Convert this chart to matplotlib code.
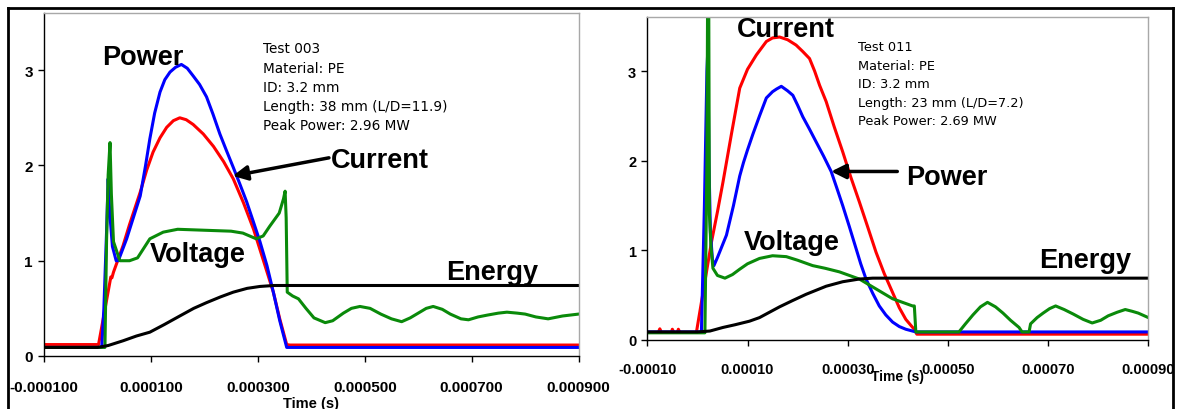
import numpy as np
import matplotlib
matplotlib.use("Agg")
import matplotlib.pyplot as plt
from matplotlib.lines import Line2D

# ---------------- data (time in microseconds) ----------------
# Left panel: Test 003
L_cur_t = [-100, 2, 14, 25, 27, 30, 48, 60, 80, 92, 104, 117, 129.5, 142, 154, 166, 179, 198, 217, 236, 254, 273, 292, 310, 329, 341, 354, 360, 900]
L_cur_v = [0.12, 0.12, 0.49, 0.83, 0.82, 0.88, 1.16, 1.38, 1.72, 1.95, 2.14, 2.29, 2.40, 2.47, 2.50, 2.48, 2.43, 2.33, 2.20, 2.04, 1.86, 1.61, 1.33, 1.01, 0.67, 0.39, 0.12, 0.115, 0.115]

L_pow_t = [-100, 8, 12, 17, 20, 23, 28, 35, 39, 54.6, 67, 80, 90, 98, 107, 117, 126, 135.7, 146, 157, 168, 179, 191, 204, 216, 229, 241, 254, 266, 279, 291, 304, 317, 329, 341, 354, 900]
L_pow_v = [0.09, 0.09, 0.5, 1.3, 1.86, 1.5, 1.15, 1.0, 1.0, 1.23, 1.45, 1.68, 2.0, 2.28, 2.55, 2.77, 2.90, 2.98, 3.03, 3.06, 3.02, 2.94, 2.85, 2.72, 2.54, 2.33, 2.16, 1.98, 1.81, 1.62, 1.42, 1.20, 0.95, 0.67, 0.37, 0.09, 0.09]

L_vol_t = [-100, 14, 17, 20, 23.5, 26, 30, 42, 60, 75, 98, 123, 150, 200, 250, 272, 297, 310, 322, 340, 348, 351, 353, 355, 365, 376, 390, 405, 426, 440, 460, 475, 491, 510, 530, 550, 569, 585, 600, 615, 628, 645, 660, 680, 694, 712, 730, 750, 766, 785, 800, 820, 843, 870, 900]
L_vol_v = [0.09, 0.09, 1.2, 1.9, 2.24, 1.7, 1.2, 1.0, 1.0, 1.03, 1.23, 1.30, 1.33, 1.32, 1.31, 1.29, 1.23, 1.26, 1.36, 1.50, 1.65, 1.73, 1.45, 0.67, 0.63, 0.60, 0.50, 0.40, 0.35, 0.37, 0.45, 0.50, 0.52, 0.50, 0.44, 0.39, 0.36, 0.40, 0.45, 0.50, 0.52, 0.49, 0.44, 0.39, 0.38, 0.41, 0.43, 0.45, 0.46, 0.45, 0.44, 0.41, 0.39, 0.42, 0.44]

L_ene_t = [-100, 0, 20, 48, 73, 98, 125, 154, 180, 204, 230, 254, 280, 304, 330, 900]
L_ene_v = [0.09, 0.09, 0.11, 0.16, 0.21, 0.25, 0.33, 0.42, 0.50, 0.56, 0.62, 0.67, 0.71, 0.73, 0.74, 0.74]

# Right panel: Test 011
R_cur_t = [-100, -78, -75, -72, -52, -50, -47, -40, -38, -35, -2, 28, 40, 51, 68, 84.5, 100, 117.7, 137.6, 150, 164, 180, 197, 210, 223.8, 234, 244, 257, 273, 290, 306, 323.3, 340, 356.5, 373, 389.6, 403, 416, 432.7, 438, 900]
R_cur_v = [0.085, 0.085, 0.125, 0.085, 0.085, 0.12, 0.085, 0.085, 0.12, 0.085, 0.085, 1.09, 1.43, 1.76, 2.30, 2.81, 3.02, 3.18, 3.33, 3.37, 3.38, 3.35, 3.29, 3.22, 3.14, 3.00, 2.84, 2.66, 2.38, 2.10, 1.82, 1.54, 1.26, 0.98, 0.74, 0.53, 0.36, 0.23, 0.12, 0.065, 0.065]

R_pow_t = [-100, 8, 14, 19, 21, 23, 26, 30, 33, 40, 58, 72, 84.5, 92, 100, 111, 124, 137.6, 150, 158, 167.5, 180, 190.5, 200, 210.4, 223, 237, 252, 267, 278, 290, 303, 316.7, 326, 336.6, 350, 363, 376, 389.6, 403, 416, 436, 900]
R_pow_v = [0.09, 0.09, 1.5, 3.0, 3.27, 2.0, 1.2, 0.9, 0.83, 0.92, 1.17, 1.50, 1.83, 1.98, 2.12, 2.30, 2.50, 2.70, 2.77, 2.80, 2.83, 2.78, 2.73, 2.62, 2.49, 2.36, 2.21, 2.05, 1.88, 1.70, 1.50, 1.27, 1.02, 0.85, 0.68, 0.52, 0.38, 0.28, 0.20, 0.15, 0.12, 0.09, 0.09]

R_vol_t = [-100, 15, 19, 20.5, 22.5, 24, 27, 31, 40, 55, 70, 84.5, 100, 124, 150, 177.4, 200, 230, 255, 283.5, 323.3, 356.5, 389.6, 429.4, 433, 436, 522, 535, 550, 565, 579, 595, 610, 625, 642, 648, 662, 665, 678, 690, 703, 715, 732, 750, 770, 788, 805, 820, 838, 854, 868, 880, 900]
R_vol_v = [0.08, 0.08, 2.0, 4.0, 4.0, 1.4, 1.05, 0.8, 0.72, 0.69, 0.73, 0.79, 0.85, 0.91, 0.94, 0.93, 0.89, 0.83, 0.80, 0.76, 0.68, 0.57, 0.46, 0.38, 0.38, 0.09, 0.09, 0.18, 0.28, 0.37, 0.42, 0.37, 0.30, 0.22, 0.14, 0.09, 0.09, 0.18, 0.25, 0.30, 0.35, 0.38, 0.34, 0.29, 0.23, 0.19, 0.22, 0.27, 0.31, 0.34, 0.32, 0.30, 0.25]

R_ene_t = [-100, 0, 25, 51, 75, 104, 124, 164, 190, 217, 257, 290, 323, 350, 900]
R_ene_v = [0.09, 0.09, 0.10, 0.14, 0.17, 0.21, 0.25, 0.37, 0.44, 0.51, 0.60, 0.65, 0.68, 0.69, 0.69]

L_ticks = [-0.0001, 0.0001, 0.0003, 0.0005, 0.0007, 0.0009]
L_ticklabels = ["-0.000100", "0.000100", "0.000300", "0.000500", "0.000700", "0.000900"]
R_ticklabels = ["-0.00010", "0.00010", "0.00030", "0.00050", "0.00070", "0.00090"]
Y_ticks = [0, 1, 2, 3]

L_info = ["Test 003", "Material: PE", "ID: 3.2 mm", "Length: 38 mm (L/D=11.9)", "Peak Power: 2.96 MW"]
R_info = ["Test 011", "Material: PE", "ID: 3.2 mm", "Length: 23 mm (L/D=7.2)", "Peak Power: 2.69 MW"]

US = 1e-6
RED, BLUE, GREEN, BLACK = "#ff0000", "#0000ff", "#0a8a0a", "#000000"
LW = 2.2
BIGFONT = dict(family="Liberation Sans", fontweight="bold", fontsize=19.5)

fig = plt.figure(figsize=(11.77, 4.10), dpi=100)
W, H = 1177.0, 410.0

def px_axes(x0, x1, ytop, ybot):
    return [x0 / W, (H - ybot) / H, (x1 - x0) / W, (ybot - ytop) / H]

axL = fig.add_axes(px_axes(44, 578.6, 14, 357))
axR = fig.add_axes(px_axes(647.3, 1148.3, 18.3, 341))

def style(ax, ticklabels, tick_fs, xpad, label_y, label_fs):
    ax.set_xlim(-0.0001, 0.0009)
    ax.set_ylim(0, 3.6)
    ax.set_xticks(L_ticks)
    ax.set_xticklabels(ticklabels)
    ax.set_yticks(Y_ticks)
    ax.set_yticklabels([str(v) for v in Y_ticks])
    for lab in ax.get_xticklabels() + ax.get_yticklabels():
        lab.set_family("Liberation Sans")
        lab.set_fontweight("bold")
        lab.set_fontsize(tick_fs)
    ax.tick_params(axis="x", direction="out", length=4, width=1, pad=xpad)
    ax.tick_params(axis="y", direction="out", length=4, width=1, pad=4)
    ax.spines["left"].set_color("black")
    ax.spines["bottom"].set_color("black")
    ax.spines["left"].set_linewidth(1.0)
    ax.spines["bottom"].set_linewidth(1.0)
    ax.spines["top"].set_color("#a8a8a8")
    ax.spines["right"].set_color("#a8a8a8")
    ax.spines["top"].set_linewidth(1.0)
    ax.spines["right"].set_linewidth(1.0)
    ax.set_xlabel("Time (s)", family="Liberation Sans", fontweight="bold", fontsize=label_fs)
    ax.xaxis.set_label_coords(0.5, label_y)

def plot_series(ax, cur, pw, vol, ene):
    ax.plot(np.array(cur[0]) * US, cur[1], color=RED, lw=LW, solid_joinstyle="round")
    ax.plot(np.array(pw[0]) * US, pw[1], color=BLUE, lw=LW, solid_joinstyle="round")
    ax.plot(np.array(vol[0]) * US, vol[1], color=GREEN, lw=LW, solid_joinstyle="round")
    ax.plot(np.array(ene[0]) * US, ene[1], color=BLACK, lw=LW, solid_joinstyle="round")

# ---------------- left panel ----------------
plot_series(axL, (L_cur_t, L_cur_v), (L_pow_t, L_pow_v), (L_vol_t, L_vol_v), (L_ene_t, L_ene_v))
style(axL, L_ticklabels, 11, 13, (357 - 397) / 343.0, 10.5)

axL.text(7.9 * US, 3.064, "Power", ha="left", va="baseline", **BIGFONT)
axL.text(437 * US, 1.98, "Current", ha="left", va="baseline", **BIGFONT)
axL.text(98.3 * US, 1.0, "Voltage", ha="left", va="baseline", **BIGFONT)
axL.text(653 * US, 0.81, "Energy", ha="left", va="baseline", **BIGFONT)
axL.annotate("", xy=(253 * US, 1.89), xytext=(433 * US, 2.08),
             arrowprops=dict(arrowstyle="-|>", color="black", lw=2.5,
                             mutation_scale=22, shrinkA=0, shrinkB=0))
for i, line in enumerate(L_info):
    axL.text(310 * US, 3.23 - i * 0.2025, line, ha="left", va="center",
             family="DejaVu Sans", fontsize=9.8, color="black")

# ---------------- right panel ----------------
plot_series(axR, (R_cur_t, R_cur_v), (R_pow_t, R_pow_v), (R_vol_t, R_vol_v), (R_ene_t, R_ene_v))
style(axR, R_ticklabels, 10.5, 11.5, (341 - 370) / 322.7, 10)

axR.text(79 * US, 3.386, "Current", ha="left", va="baseline", **BIGFONT)
axR.text(92.4 * US, 1.01, "Voltage", ha="left", va="baseline", **BIGFONT)
axR.text(417 * US, 1.745, "Power", ha="left", va="baseline", **BIGFONT)
axR.text(681.5 * US, 0.81, "Energy", ha="left", va="baseline", **BIGFONT)
axR.annotate("", xy=(267 * US, 1.88), xytext=(399 * US, 1.88),
             arrowprops=dict(arrowstyle="-|>", color="black", lw=2.5,
                             mutation_scale=22, shrinkA=0, shrinkB=0))
for i, line in enumerate(R_info):
    axR.text(320 * US, 3.27 - i * 0.205, line, ha="left", va="center",
             family="DejaVu Sans", fontsize=9.3, color="black")

# ---------------- outer frame ----------------
fx0, fx1, fy = 8.0 / W, 1172.5 / W, 1 - 8.7 / H
for xs, ys in [([fx0, fx1], [fy, fy]), ([fx0, fx0], [0, fy]), ([fx1, fx1], [0, fy])]:
    fig.add_artist(Line2D(xs, ys, transform=fig.transFigure, color="black", lw=2.0))

fig.savefig("out.png", dpi=100, facecolor="white")
